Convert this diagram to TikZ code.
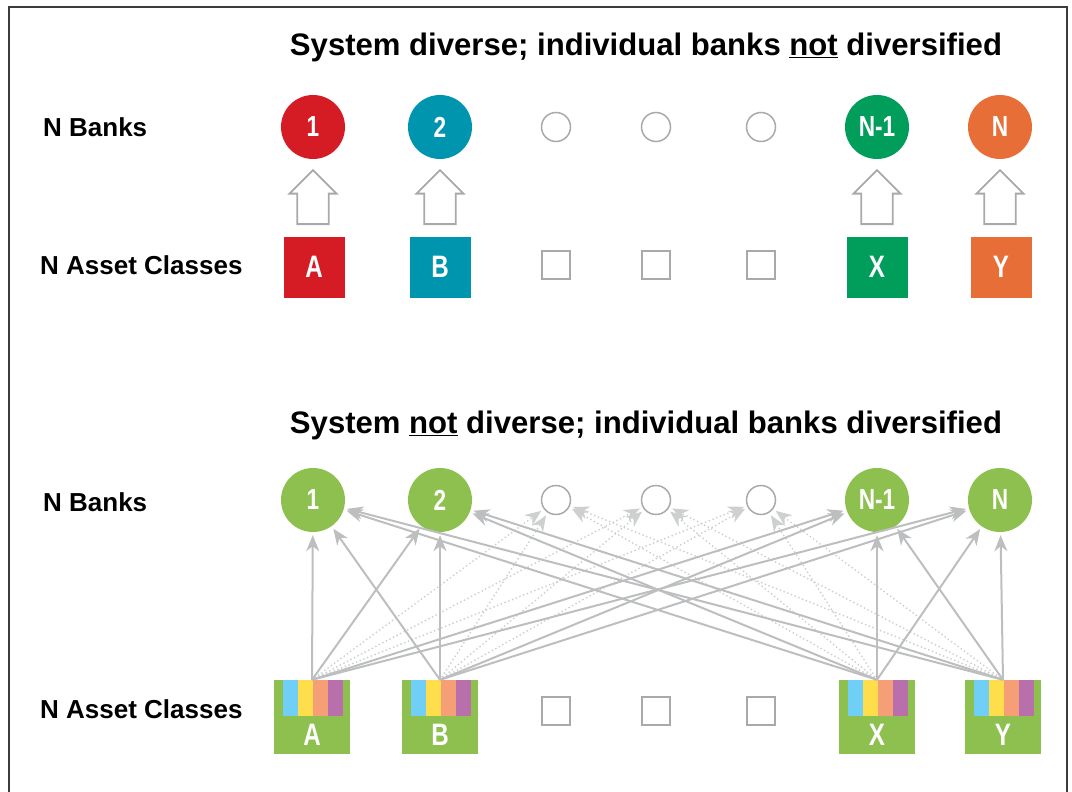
\documentclass[tikz,border=0pt]{standalone}
\usepackage{fontspec}
\setmainfont{Liberation Sans}
\usetikzlibrary{shapes.geometric, shapes.arrows, arrows, arrows.meta}
% narrow bold digits and letters
\newcommand{\narrow}[1]{\scalebox{0.78}[1]{#1}}

\definecolor{bankred}{RGB}{213,27,36}
\definecolor{bankteal}{RGB}{0,149,174}
\definecolor{bankgreen}{RGB}{0,158,90}
\definecolor{bankorange}{RGB}{232,110,55}
\definecolor{mixgreen}{RGB}{141,192,78}
\definecolor{stripeblue}{RGB}{111,207,246}
\definecolor{stripeyellow}{RGB}{255,222,76}
\definecolor{stripesalmon}{RGB}{246,159,118}
\definecolor{stripepurple}{RGB}{184,111,172}
\definecolor{linkgray}{RGB}{188,190,192}
\definecolor{dotgray}{RGB}{205,207,208}
\definecolor{emptygray}{RGB}{167,169,172}
\definecolor{framegray}{RGB}{60,60,60}

\tikzstyle{title} = [font=\fontsize{31.1}{34}\selectfont\bfseries]
\tikzstyle{rowlabel} = [anchor=west, inner sep=0, font=\fontsize{26}{30}\selectfont\bfseries]
\tikzstyle{bank} = [circle, minimum size=64, inner sep=0, text=white, font=\fontsize{29}{30}\selectfont\bfseries]
\tikzstyle{emptybank} = [circle, minimum size=29, inner sep=0, draw=emptygray, line width=1.5]
\tikzstyle{asset} = [rectangle, minimum size=61, inner sep=0, text=white, font=\fontsize{31}{32}\selectfont\bfseries]
\tikzstyle{emptyasset} = [rectangle, minimum size=28, inner sep=0, draw=emptygray, line width=1.5]
\tikzstyle{mix} = [rectangle, minimum width=76, minimum height=74, inner sep=0, fill=mixgreen,
  text=white, text height=56pt, text depth=0pt, font=\fontsize{31}{32}\selectfont\bfseries,
  path picture={
    \fill[stripeblue] ([xshift=9pt]path picture bounding box.north west) rectangle ++(15pt,-36pt);
    \fill[stripeyellow] ([xshift=24pt]path picture bounding box.north west) rectangle ++(15pt,-36pt);
    \fill[stripesalmon] ([xshift=39pt]path picture bounding box.north west) rectangle ++(15pt,-36pt);
    \fill[stripepurple] ([xshift=54pt]path picture bounding box.north west) rectangle ++(15pt,-36pt);
  }]
\tikzstyle{hollowup} = [single arrow, shape border rotate=90, minimum height=54, minimum width=47,
  inner sep=13.5, draw=emptygray, line width=1.8, fill=white]
\tikzstyle{arrow} = [draw=linkgray, line width=2, shorten >=3pt, -{Stealth[length=16pt, width=13pt, inset=5pt]}]
\tikzstyle{dotarrow} = [draw=dotgray, line width=2, line cap=round, dash pattern=on 0pt off 4pt,
  shorten >=3pt, -{Stealth[length=16pt, width=13pt, inset=5pt, fill=dotgray]}]

\begin{document}
\begin{tikzpicture}[x=1pt, y=-1pt, node distance=140]
\useasboundingbox (0,0) rectangle (1072,792);
\draw [framegray, line width=2] (9,792) -- (9,7) -- (1067,7) -- (1067,792);

% one asset class per bank
\node (ttop) [title] at (646,47) {System diverse; individual banks \underline{not} diversified};
\node (lbanks) [rowlabel] at (43,127) {N Banks};
\node (lassets) [rowlabel] at (40,265) {N Asset Classes};

\node (b1) [bank, fill=bankred] at (313,127) {\narrow{1}};
\node (b2) [bank, fill=bankteal] at (440,127) {\narrow{2}};
\node (be1) [emptybank] at (556,127) {};
\node (be2) [emptybank] at (656,127) {};
\node (be3) [emptybank] at (761,127) {};
\node (bn1) [bank, fill=bankgreen] at (877,127) {\narrow{N-1}};
\node (bn) [bank, fill=bankorange] at (1000,127) {\narrow{N}};

\node (sA) [asset, fill=bankred, below of=b1, xshift=1] {\narrow{A}};
\node (sB) [asset, fill=bankteal, below of=b2] {\narrow{B}};
\node (se1) [emptyasset, below of=be1, yshift=2] {};
\node (se2) [emptyasset, below of=be2, yshift=2] {};
\node (se3) [emptyasset, below of=be3, yshift=2] {};
\node (sX) [asset, fill=bankgreen, below of=bn1] {\narrow{X}};
\node (sY) [asset, fill=bankorange, below of=bn, xshift=1] {\narrow{Y}};

\node (u1) [hollowup, below of=b1, node distance=78] {};
\node (u2) [hollowup, below of=b2, node distance=78] {};
\node (un1) [hollowup, below of=bn1, node distance=78] {};
\node (un) [hollowup, below of=bn, node distance=78] {};

% every bank holds every asset class
\node (tbot) [title] at (646,425) {System \underline{not} diverse; individual banks diversified};
\node (lbanks2) [rowlabel] at (43,502) {N Banks};
\node (lassets2) [rowlabel] at (40,709) {N Asset Classes};

\node (c1) [bank, fill=mixgreen] at (313,500) {\narrow{1}};
\node (c2) [bank, fill=mixgreen] at (440,500) {\narrow{2}};
\node (ce1) [emptybank] at (556,500) {};
\node (ce2) [emptybank] at (656,500) {};
\node (ce3) [emptybank] at (761,500) {};
\node (cn1) [bank, fill=mixgreen] at (877,500) {\narrow{N-1}};
\node (cn) [bank, fill=mixgreen] at (1000,500) {\narrow{N}};

\node (mA) [mix] at (312,717) {\narrow{A}};
\node (mB) [mix] at (440,717) {\narrow{B}};
\node (me1) [emptyasset] at (556,711) {};
\node (me2) [emptyasset] at (656,711) {};
\node (me3) [emptyasset] at (761,711) {};
\node (mX) [mix] at (877,717) {\narrow{X}};
\node (mY) [mix] at (1003,717) {\narrow{Y}};

\draw [dotarrow] (mA.north) -- (ce1);
\draw [dotarrow] (mA.north) -- (ce2);
\draw [dotarrow] (mA.north) -- (ce3);
\draw [dotarrow] (mB.north) -- (ce1);
\draw [dotarrow] (mB.north) -- (ce2);
\draw [dotarrow] (mB.north) -- (ce3);
\draw [dotarrow] (mX.north) -- (ce1);
\draw [dotarrow] (mX.north) -- (ce2);
\draw [dotarrow] (mX.north) -- (ce3);
\draw [dotarrow] (mY.north) -- (ce1);
\draw [dotarrow] (mY.north) -- (ce2);
\draw [dotarrow] (mY.north) -- (ce3);

\draw [arrow] (mA.north) -- (c1);
\draw [arrow] (mA.north) -- (c2);
\draw [arrow] (mA.north) -- (cn1);
\draw [arrow] (mA.north) -- (cn);
\draw [arrow] (mB.north) -- (c1);
\draw [arrow] (mB.north) -- (c2);
\draw [arrow] (mB.north) -- (cn1);
\draw [arrow] (mB.north) -- (cn);
\draw [arrow] (mX.north) -- (c1);
\draw [arrow] (mX.north) -- (c2);
\draw [arrow] (mX.north) -- (cn1);
\draw [arrow] (mX.north) -- (cn);
\draw [arrow] (mY.north) -- (c1);
\draw [arrow] (mY.north) -- (c2);
\draw [arrow] (mY.north) -- (cn1);
\draw [arrow] (mY.north) -- (cn);

\end{tikzpicture}
\end{document}
